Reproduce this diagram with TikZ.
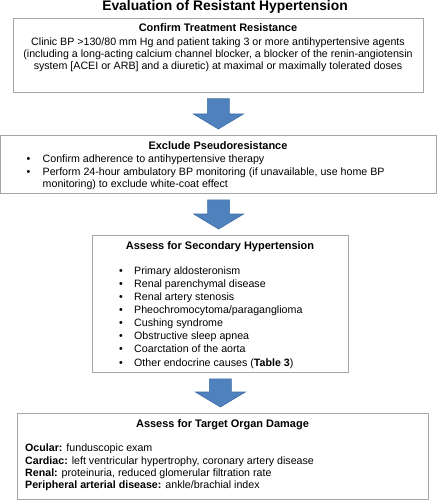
\documentclass[tikz,border=0pt]{standalone}
\usepackage{fontspec}
\setmainfont{Liberation Sans}
\usetikzlibrary{calc}
\definecolor{boxgray}{HTML}{A6A6A6}
\definecolor{arrowblue}{HTML}{4F81BD}
\definecolor{arrowedge}{HTML}{3D6DA5}
\newcommand{\itm}{\makebox[16bp][l]{\textbullet}}
\newcommand{\itmb}{\makebox[15bp][l]{\textbullet}}

\begin{document}
\begin{tikzpicture}[x=1bp, y=-1bp,
    stepbox/.style={draw=boxgray, line width=0.8bp, inner sep=0pt, anchor=north west},
    txt/.style={inner sep=0pt, font=\fontsize{10.7}{12}\selectfont},
    head/.style={inner sep=0pt, anchor=base, font=\fontsize{11}{12}\selectfont\bfseries},
    bigarrow/.style={fill=arrowblue, draw=arrowedge, line width=0.6bp,
        to path={let \p1=($(\tikztostart)+(0,6)$), \p2=($(\tikztotarget)+(0,-6)$) in
            (\x1-11bp,\y1) -- (\x1+11bp,\y1) -- (\x1+11bp,\y2+15bp) -- (\x1+25bp,\y2+15bp)
            -- (\x1,\y2) -- (\x1-25bp,\y2+15bp) -- (\x1-11bp,\y2+15bp) -- cycle}}]
    \useasboundingbox (0,0) rectangle (437,500);

    \node[inner sep=0pt, anchor=base, font=\fontsize{13.9}{14}\selectfont\bfseries] (title) at (225,10.2) {Evaluation of Resistant Hypertension};

    \node[stepbox, minimum width=410bp, minimum height=74bp] (confirm) at (13,18) {};
    \node[stepbox, minimum width=435.5bp, minimum height=58bp] (pseudo) at (0.5,135) {};
    \node[stepbox, minimum width=256bp, minimum height=137bp] (secondary) at (92,235) {};
    \node[stepbox, minimum width=411bp, minimum height=86bp] (organ) at (17,413) {};

    \draw[bigarrow] (confirm.south) to (pseudo.north);
    \draw[bigarrow] (pseudo.south) to (secondary.north);
    \draw[bigarrow] (secondary.south) to (organ.north);

    \node[head] (confirmhead) at (218,32) {Confirm Treatment Resistance};
    \node[txt, anchor=base] (confirm1) at (218,45.5) {Clinic BP >130/80 mm Hg and patient taking 3 or more antihypertensive agents};
    \node[txt, anchor=base] (confirm2) at (218,57.5) {(including a long-acting calcium channel blocker, a blocker of the renin-angiotensin};
    \node[txt, anchor=base] (confirm3) at (218,69.5) {system [ACEI or ARB] and a diuretic) at maximal or maximally tolerated doses};

    \node[head] (pseudohead) at (218,150) {Exclude Pseudoresistance};
    \node[txt, anchor=base west] (pseudo1) at (26.5,163) {\itm Confirm adherence to antihypertensive therapy};
    \node[txt, anchor=base west] (pseudo2) at (26.5,176) {\itm Perform 24-hour ambulatory BP monitoring (if unavailable, use home BP};
    \node[txt, anchor=base west] (pseudo3) at (42.5,188) {monitoring) to exclude white-coat effect};

    \node[head] (secondaryhead) at (220,249.3) {Assess for Secondary Hypertension};
    \node[txt, anchor=base west] (sec1) at (119,274) {\itmb Primary aldosteronism};
    \node[txt, anchor=base west] (sec2) at (119,287.2) {\itmb Renal parenchymal disease};
    \node[txt, anchor=base west] (sec3) at (119,300.3) {\itmb Renal artery stenosis};
    \node[txt, anchor=base west] (sec4) at (119,313.4) {\itmb Pheochromocytoma/paraganglioma};
    \node[txt, anchor=base west] (sec5) at (119,326.5) {\itmb Cushing syndrome};
    \node[txt, anchor=base west] (sec6) at (119,339.6) {\itmb Obstructive sleep apnea};
    \node[txt, anchor=base west] (sec7) at (119,352.8) {\itmb Coarctation of the aorta};
    \node[txt, anchor=base west] (sec8) at (119,366) {\itmb Other endocrine causes (\textbf{Table 3})};

    \node[head] (organhead) at (222.5,427.7) {Assess for Target Organ Damage};
    \node[txt, anchor=base west] (organ1) at (25,451.7) {\textbf{Ocular:} funduscopic exam};
    \node[txt, anchor=base west] (organ2) at (25,464) {\textbf{Cardiac:} left ventricular hypertrophy, coronary artery disease};
    \node[txt, anchor=base west] (organ3) at (25,476.4) {\textbf{Renal:} proteinuria, reduced glomerular filtration rate};
    \node[txt, anchor=base west] (organ4) at (25,488.5) {\textbf{Peripheral arterial disease:} ankle/brachial index};
\end{tikzpicture}
\end{document}
